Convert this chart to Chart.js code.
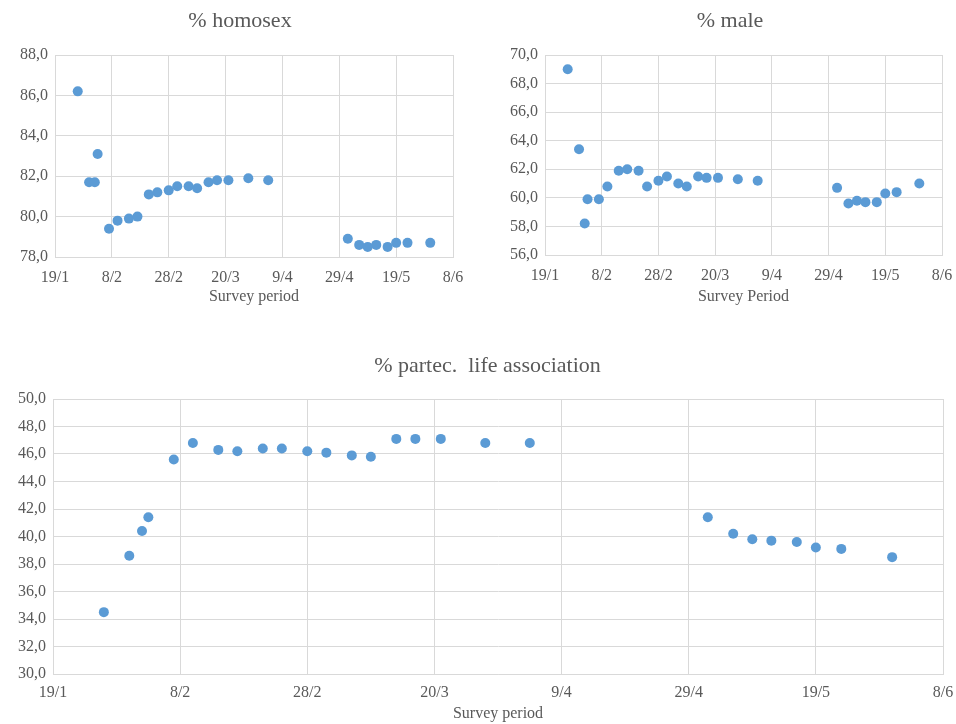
<!DOCTYPE html>
<html>
<head>
<meta charset="utf-8">
<script src="https://cdn.jsdelivr.net/npm/chart.js@4/dist/chart.umd.min.js"></script>
<style>
  html, body { margin: 0; padding: 0; background: #ffffff; }
  body { width: 956px; height: 724px; position: relative; overflow: hidden; }
  .panel { position: absolute; }
</style>
</head>
<body>
<div class="panel" style="left:0px;top:0px;width:480px;height:312px"><canvas id="homosexChart"></canvas></div>
<div class="panel" style="left:480px;top:0px;width:476px;height:312px"><canvas id="maleChart"></canvas></div>
<div class="panel" style="left:0px;top:340px;width:956px;height:384px"><canvas id="lifeChart"></canvas></div>
<script>
// Survey fieldwork dates (day/month)
const surveyDates = [
  "27/1", "31/1", "2/2", "3/2", "7/2", "10/2", "14/2", "17/2", "21/2", "24/2",
  "28/2", "3/3", "7/3", "10/3", "14/3", "17/3", "21/3", "28/3", "4/4",
  "2/5", "6/5", "9/5", "12/5", "16/5", "19/5", "23/5", "31/5"
];

// % homosex per survey date
const homosexPct = [
  86.2, 81.7, 81.7, 83.1, 79.4, 79.8, 79.9, 80.0, 81.1, 81.2,
  81.3, 81.5, 81.5, 81.4, 81.7, 81.8, 81.8, 81.9, 81.8,
  78.9, 78.6, 78.5, 78.6, 78.5, 78.7, 78.7, 78.7
];

// % male per survey date
const malePct = [
  69.0, 63.4, 58.2, 59.9, 59.9, 60.8, 61.9, 62.0, 61.9, 60.8,
  61.2, 61.5, 61.0, 60.8, 61.5, 61.4, 61.4, 61.3, 61.2,
  60.7, 59.6, 59.8, 59.7, 59.7, 60.3, 60.4, 61.0
];

// % partec. life association per survey date
const lifeAssocPct = [
  34.5, 38.6, 40.4, 41.4, 45.6, 46.8, 46.3, 46.2, 46.4, 46.4,
  46.2, 46.1, 45.9, 45.8, 47.1, 47.1, 47.1, 46.8, 46.8,
  41.4, 40.2, 39.8, 39.7, 39.6, 39.2, 39.1, 38.5
];

// Date axis: days counted from 19/1, ticks every 20 days up to 8/6
const surveyYear = 2021;
const axisStart = { day: 19, month: 1 };
const axisSpanDays = 140;
const axisStepDays = 20;

const startDate = new Date(surveyYear, axisStart.month - 1, axisStart.day);
function dayOffset(label) {
  const [d, m] = label.split('/').map(Number);
  const dt = new Date(surveyYear, m - 1, d);
  return Math.round((dt - startDate) / 86400000);
}
function dateLabel(offset) {
  const dt = new Date(surveyYear, axisStart.month - 1, axisStart.day + offset);
  return dt.getDate() + '/' + (dt.getMonth() + 1);
}
function commaDecimal(v) {
  return Number(v).toFixed(1).replace('.', ',');
}

const FONT = "'Liberation Serif', 'Times New Roman', serif";
const TEXT = '#595959';
const GRID = '#d9d9d9';
const MARK = '#5b9bd5';

// Panel heading drawn at a fixed spot of each canvas
const panelTitle = {
  id: 'panelTitle',
  afterDraw(chart, args, opts) {
    const ctx = chart.ctx;
    ctx.save();
    ctx.font = '22px ' + FONT;
    ctx.fillStyle = TEXT;
    ctx.textAlign = 'center';
    ctx.textBaseline = 'middle';
    ctx.fillText(opts.text, opts.x, opts.y);
    ctx.restore();
  }
};

function scatterChart(canvasId, o) {
  const points = surveyDates.map((d, i) => ({ x: dayOffset(d), y: o.values[i] }));
  return new Chart(document.getElementById(canvasId), {
    type: 'scatter',
    plugins: [panelTitle],
    data: {
      datasets: [{
        data: points,
        backgroundColor: MARK,
        borderWidth: 0,
        pointRadius: 5,
        pointHoverRadius: 5
      }]
    },
    options: {
      responsive: true,
      maintainAspectRatio: false,
      animation: false,
      events: [],
      layout: { padding: { left: 0, right: o.padRight, top: o.padTop, bottom: 0 } },
      plugins: {
        legend: { display: false },
        tooltip: { enabled: false },
        title: { display: false },
        panelTitle: { text: o.title, x: o.titleX, y: o.titleY }
      },
      scales: {
        x: {
          type: 'linear',
          min: 0,
          max: axisSpanDays,
          afterFit: s => { s.height = o.xHeight; },
          ticks: {
            stepSize: axisStepDays,
            padding: 0,
            color: TEXT,
            font: { family: FONT, size: 16 },
            maxRotation: 0,
            autoSkip: false,
            callback: v => dateLabel(v)
          },
          grid: {
            color: GRID, lineWidth: 1,
            drawTicks: true, tickLength: o.xTickGap, tickColor: 'rgba(0,0,0,0)'
          },
          border: { color: GRID, width: 1 },
          title: {
            display: true,
            text: o.xTitle,
            color: TEXT,
            font: { family: FONT, size: 16 },
            padding: { top: 0, bottom: o.xTitleBottom }
          }
        },
        y: {
          min: o.yMin,
          max: o.yMax,
          afterFit: s => { s.width = o.yWidth; },
          ticks: {
            stepSize: 2,
            padding: 7,
            color: TEXT,
            font: { family: FONT, size: 16 },
            callback: v => commaDecimal(v)
          },
          grid: { color: GRID, lineWidth: 1, drawTicks: false },
          border: { color: GRID, width: 1 }
        }
      }
    }
  });
}

scatterChart('homosexChart', {
  title: '% homosex', titleX: 240, titleY: 21,
  xTitle: 'Survey period', values: homosexPct,
  yMin: 78, yMax: 88,
  yWidth: 55, padRight: 27, padTop: 55, xHeight: 55,
  xTickGap: 11, xTitleBottom: 6
});

scatterChart('maleChart', {
  title: '% male', titleX: 250, titleY: 21,
  xTitle: 'Survey Period', values: malePct,
  yMin: 56, yMax: 70,
  yWidth: 65, padRight: 14, padTop: 55, xHeight: 57,
  xTickGap: 11, xTitleBottom: 6
});

scatterChart('lifeChart', {
  title: '% partec.  life association', titleX: 487.5, titleY: 26,
  xTitle: 'Survey period', values: lifeAssocPct,
  yMin: 30, yMax: 50,
  yWidth: 53, padRight: 13, padTop: 59, xHeight: 50,
  xTickGap: 9, xTitleBottom: 1
});
</script>
</body>
</html>
